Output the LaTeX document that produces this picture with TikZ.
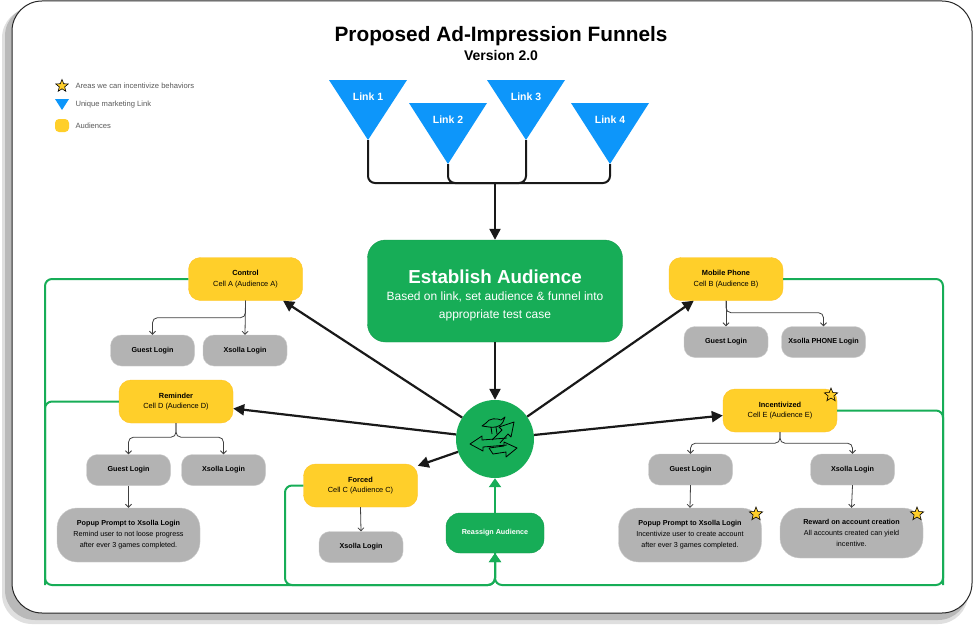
\documentclass[tikz,border=0pt]{standalone}
\usepackage{fontspec}
\setmainfont{Liberation Sans}
\usetikzlibrary{arrows.meta,shapes.geometric}

\definecolor{audyellow}{HTML}{FFCF2A}
\definecolor{fgreen}{HTML}{17AD57}
\definecolor{linkblue}{HTML}{0D96FA}
\definecolor{boxgray}{HTML}{B3B3B3}

\tikzset{
  audience/.style={draw=audyellow!85!orange, fill=audyellow, rounded corners=12pt, minimum width=114pt, minimum height=43pt, align=center, font=\fontsize{7.4}{10.5}\selectfont},
  login/.style={draw=gray!40, fill=boxgray, rounded corners=11pt, minimum width=84pt, minimum height=31pt, align=center, font=\fontsize{7.2}{8}\selectfont\bfseries},
  popup/.style={draw=gray!40, fill=boxgray, rounded corners=20pt, minimum width=143pt, minimum height=54pt, align=center, font=\fontsize{7.2}{11}\selectfont},
  bigarrow/.style={-{Triangle[length=11pt,width=11pt]}, line width=2.2pt, draw=black!90},
  thinarrow/.style={-{Straight Barb[length=3pt,width=6pt]}, draw=black!75, line width=0.8pt, rounded corners=5pt},
  greenline/.style={draw=fgreen, line width=2pt, rounded corners=7pt},
  greenarrow/.style={greenline, -{Triangle[length=9pt,width=12pt]}},
  linkline/.style={line width=2pt, draw=black!90, rounded corners=7pt},
  linktri/.style={fill=linkblue},
  linklabel/.style={text=white, font=\fontsize{10.5}{12}\selectfont\bfseries},
  bonus/.style={star, star points=5, star point ratio=2.3, draw=black, fill=audyellow, inner sep=0pt, minimum size=14pt, line width=0.6pt},
  legendtext/.style={anchor=west, text=black!65, font=\fontsize{7.6}{8}\selectfont}
}

\begin{document}
\begin{tikzpicture}[x=1pt,y=-1pt]
  \useasboundingbox (0,0) rectangle (974,626);

  % frame with shadow
  \fill[gray!25, rounded corners=30pt] (2,8) rectangle (968,624);
  \fill[gray!55, rounded corners=30pt] (5,6) rectangle (968,620);
  \draw[fill=white, line width=1pt, draw=black!85, rounded corners=30pt] (12,1) rectangle (972,613);

  \node (title) at (501,36) {\fontsize{20.8}{22}\selectfont\bfseries Proposed Ad-Impression Funnels};
  \node (version) at (501,55) {\fontsize{14}{15}\selectfont\bfseries Version 2.0};

  % legend
  \node[bonus, minimum size=13pt] (legstar) at (62,86) {};
  \node[legendtext] (legstartxt) at (72,86) {Areas we can incentivize behaviors};
  \fill[linkblue] (55,99) -- (69,99) -- (62,110) -- cycle;
  \node[legendtext] (legtritxt) at (72,105) {Unique marketing Link};
  \fill[audyellow, rounded corners=4pt] (55,119) rectangle (69,132);
  \node[legendtext] (legaudtxt) at (72,126) {Audiences};

  % links
  \fill[linktri] (329,80) -- (407,80) -- (368,140) -- cycle;
  \coordinate (l1) at (368,140);
  \node[linklabel] (l1txt) at (368,97) {Link 1};

  \fill[linktri] (409,103) -- (487,103) -- (448,164) -- cycle;
  \coordinate (l2) at (448,164);
  \node[linklabel] (l2txt) at (448,120) {Link 2};

  \fill[linktri] (487,80) -- (565,80) -- (526,140) -- cycle;
  \coordinate (l3) at (526,140);
  \node[linklabel] (l3txt) at (526,97) {Link 3};

  \fill[linktri] (571,103) -- (649,103) -- (610,164) -- cycle;
  \coordinate (l4) at (610,164);
  \node[linklabel] (l4txt) at (610,120) {Link 4};

  \coordinate (hub) at (495,183);
  \draw[linkline] (l1) |- (hub);
  \draw[linkline] (l2) |- (hub);
  \draw[linkline] (l3) |- (hub);
  \draw[linkline] (l4) |- (hub);

  % establish audience
  \node[fill=fgreen, draw=fgreen!90!black, rounded corners=18pt, minimum width=255pt, minimum height=102pt, align=center, text=white, font=\fontsize{12}{18}\selectfont] (est) at (495,291)
    {\rule{0pt}{22pt}{\fontsize{18.8}{20}\selectfont\bfseries Establish Audience}\\[-1pt]Based on link, set audience \& funnel into\\appropriate test case};
  \draw[bigarrow] (hub) -- (est.north);

  \node[circle, fill=fgreen, minimum size=78pt, inner sep=0pt] (hubc) at (495,439) {};
  \draw[bigarrow] (est.south) -- (hubc.north);

  % icon in the circle
  \begin{scope}[shift={(hubc.center)}, line width=0.8pt, line join=round]
    \draw (12,-1) -- (-13,1) -- (-13,-3) -- (-25,5) -- (-12,12) -- (-12,8) -- (12,6);
    \draw (-3,1) -- (7,-9) -- (4,-12) -- (19,-17) -- (16,-2) -- (13,-5) -- (5,4);
    \draw (-6,9) -- (9,7) -- (9,3) -- (22,9) -- (11,18) -- (11,13) -- (-2,15) -- cycle;
    \draw (-9,-16) .. controls (-6,-21) and (2,-21) .. (6,-19) -- (10,-22) -- (8,-17) .. controls (6,-12) and (-2,-11) .. (-6,-12) -- (-13,-13) -- cycle;
    \draw (-4,-12) -- (-3,-5);
    \draw (1,-12) -- (2,-5);
  \end{scope}

  % audiences
  \node[audience] (ctrl) at (245.5,279) {\textbf{Control}\\Cell A (Audience A)};
  \node[audience] (mob) at (726,279) {\textbf{Mobile Phone}\\Cell B (Audience B)};
  \node[audience] (rem) at (176,401.5) {\textbf{Reminder}\\Cell D (Audience D)};
  \node[audience] (inc) at (780,410.5) {\textbf{Incentivized}\\Cell E (Audience E)};
  \node[audience] (forc) at (360.5,485.5) {\textbf{Forced}\\Cell C (Audience C)};

  \draw[bigarrow] (hubc) -- (ctrl.-30);
  \draw[bigarrow] (hubc) -- (mob.214);
  \draw[bigarrow] (hubc) -- (rem.-7);
  \draw[bigarrow] (hubc) -- (inc.185);
  \draw[bigarrow] (hubc) -- (forc.19);

  % logins
  \node[login] (gla) at (152.5,350.5) {Guest Login};
  \node[login] (xla) at (245,350.5) {Xsolla Login};
  \node[login] (glb) at (726,342) {Guest Login};
  \node[login] (xlb) at (823.5,342) {Xsolla PHONE Login};
  \node[login] (gld) at (128.5,470) {Guest Login};
  \node[login] (xld) at (223.5,470) {Xsolla Login};
  \node[login] (xlc) at (361,547) {Xsolla Login};
  \node[login] (gle) at (690.5,469.5) {Guest Login};
  \node[login] (xle) at (852.5,469.5) {Xsolla Login};

  \node[popup] (popd) at (128.5,535) {\textbf{Popup Prompt to Xsolla Login}\\Remind user to not loose progress\\after ever 3 games completed.};
  \node[popup] (pope) at (690,535) {\textbf{Popup Prompt to Xsolla Login}\\Incentivize user to create account\\after ever 3 games completed.};
  \node[popup, minimum height=50pt] (rew) at (851.5,533) {\textbf{Reward on account creation}\\All accounts created can yield\\incentive.};

  \node[bonus] (stinc) at (831,395) {};
  \node[bonus] (stpope) at (756,514) {};
  \node[bonus] (strew) at (917,514) {};

  \draw[thinarrow] (ctrl.south) -- (xla.north);
  \draw[thinarrow] (ctrl.south) -- ++(0,17) -| (gla.north);
  \draw[thinarrow] (mob.south) -- (glb.north);
  \draw[thinarrow] (mob.south) -- ++(0,12) -| (xlb.north);
  \draw[thinarrow] (rem.south) -- ++(0,14) -| (gld.north);
  \draw[thinarrow] (rem.south) -- ++(0,14) -| (xld.north);
  \draw[thinarrow] (inc.south) -- ++(0,11) -| (gle.north);
  \draw[thinarrow] (inc.south) -- ++(0,11) -| (xle.north);
  \draw[thinarrow] (forc.south) -- (xlc.north);
  \draw[thinarrow] (gld.south) -- (popd.north);
  \draw[thinarrow] (gle.south) -- (pope.north);
  \draw[thinarrow] (xle.south) -- (rew.north);

  % reassign loop
  \node[fill=fgreen, draw=fgreen!90!black, rounded corners=14pt, minimum width=98pt, minimum height=40pt, text=white, font=\fontsize{7.2}{8}\selectfont\bfseries] (reas) at (495,533) {Reassign Audience};
  \draw[greenarrow] (reas.north) -- (hubc.south);

  \coordinate (loopL) at (45,585);
  \coordinate (loopF) at (285,585);
  \coordinate (loopR) at (943,585);
  \draw[greenline] (rem.west) -| (loopL);
  \draw[greenline] (inc.east) -| (loopR);
  \draw[greenline] (forc.west) -| (loopF) -| (reas.south);
  \draw[greenarrow] (ctrl.west) -| (loopL) -| (reas.south);
  \draw[greenarrow] (mob.east) -| (loopR) -| (reas.south);
\end{tikzpicture}
\end{document}
